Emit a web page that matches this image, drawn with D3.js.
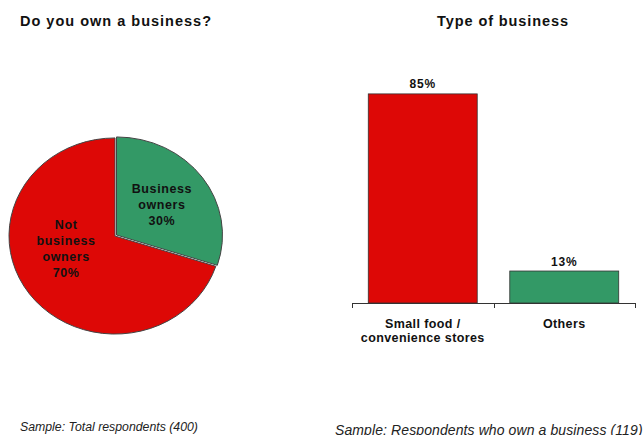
<!DOCTYPE html>
<html>
<head>
<meta charset="utf-8">
<script src="https://cdn.jsdelivr.net/npm/d3@7"></script>
<style>
  html, body { margin: 0; padding: 0; background: #fff; }
  svg { display: block; font-family: Arial, "Liberation Sans", sans-serif; }
</style>
</head>
<body>
<svg id="chart" width="644" height="435"></svg>
<script>
// Ownership split (pie)
const ownershipLabels = [["Business", "owners"], ["Not", "business", "owners"]];
const ownershipValues = [30, 70];
const ownershipColors = ["#339966", "#dd0806"];

// Business type (bars)
const businessTypes = [["Small food /", "convenience stores"], ["Others"]];
const businessValues = [85, 13];
const businessColors = ["#dd0806", "#339966"];

const svg = d3.select("#chart");

// ---------- Titles ----------
svg.append("text").attr("x", 20).attr("y", 25.5)
  .attr("font-size", 14.5).attr("font-weight", "bold").attr("fill", "#111")
  .attr("letter-spacing", 1)
  .text("Do you own a business?");
svg.append("text").attr("x", 503).attr("y", 25.5).attr("text-anchor", "middle")
  .attr("font-size", 14.5).attr("font-weight", "bold").attr("fill", "#111")
  .attr("letter-spacing", 0.9)
  .text("Type of business");

// ---------- Pie ----------
const cx = 115, cy = 236, R = 106, squash = 0.925;
const pie = d3.pie().sort(null).value(d => d);
const arcs = pie(ownershipValues);
const arc = d3.arc().innerRadius(0).outerRadius(R);
const labelArc = d3.arc().innerRadius(58).outerRadius(58);

const pieG = svg.append("g").attr("transform", `translate(${cx},${cy})`);
const explode = [[1.5, -1], [0, 0]];
arcs.forEach((a, i) => {
  pieG.append("path")
    .attr("transform", `translate(${explode[i][0]},${explode[i][1]}) scale(1,${squash})`)
    .attr("d", arc(a))
    .attr("fill", ownershipColors[i])
    .attr("stroke", "#444")
    .attr("stroke-width", 1)
    .attr("vector-effect", "non-scaling-stroke");
});

const labelShift = [[0, 0], [-2, -19]];
arcs.forEach((a, i) => {
  const [lx, ly] = labelArc.centroid(a);
  const lines = ownershipLabels[i].concat([a.data + "%"]);
  const lh = 16;
  const x0 = lx + labelShift[i][0];
  const y0 = ly * squash + labelShift[i][1] - (lines.length - 1) * lh / 2;
  const t = pieG.append("text")
    .attr("text-anchor", "middle").attr("font-size", 12.5)
    .attr("letter-spacing", 0.6)
    .attr("font-weight", "bold").attr("fill", "#111");
  lines.forEach((s, k) => {
    t.append("tspan").attr("x", x0).attr("y", y0 + k * lh + 4.5).text(s);
  });
});

// ---------- Bars ----------
const x = d3.scaleBand().domain(d3.range(businessValues.length))
  .range([352, 635]).paddingInner(0.23).paddingOuter(0.115);
const y = d3.scaleLinear().domain([0, 100]).range([303, 57]);

svg.selectAll("rect.bar").data(businessValues).enter().append("rect")
  .attr("class", "bar")
  .attr("x", (d, i) => x(i)).attr("width", x.bandwidth())
  .attr("y", d => y(d)).attr("height", d => y(0) - y(d))
  .attr("fill", (d, i) => businessColors[i])
  .attr("stroke", "#333").attr("stroke-width", 0.8);

svg.selectAll("text.val").data(businessValues).enter().append("text")
  .attr("class", "val").attr("text-anchor", "middle")
  .attr("x", (d, i) => x(i) + x.bandwidth() / 2)
  .attr("y", d => y(d) - 5.5)
  .attr("font-size", 12).attr("font-weight", "bold").attr("fill", "#111")
  .attr("letter-spacing", 0.8)
  .text(d => d + "%");

// category axis with boundary ticks
const axisG = svg.append("g");
axisG.append("line").attr("x1", 352).attr("x2", 635).attr("y1", 303.5).attr("y2", 303.5)
  .attr("stroke", "#333").attr("stroke-width", 1);
const step = x.step();
d3.range(businessValues.length + 1).forEach(k => {
  const tx = Math.round(352 + k * step) + 0.5;
  axisG.append("line").attr("x1", tx).attr("x2", tx).attr("y1", 303).attr("y2", 308)
    .attr("stroke", "#333").attr("stroke-width", 1);
});

businessTypes.forEach((lines, i) => {
  const t = svg.append("text").attr("text-anchor", "middle")
    .attr("font-size", 12.5).attr("font-weight", "bold").attr("fill", "#111")
    .attr("letter-spacing", 0.4);
  lines.forEach((s, k) => {
    t.append("tspan").attr("x", x(i) + x.bandwidth() / 2).attr("y", 327.5 + k * 14.5).text(s);
  });
});

// ---------- Footnotes ----------
svg.append("text").attr("x", 20).attr("y", 430.5)
  .attr("font-size", 12.3).attr("font-style", "italic").attr("fill", "#222")
  .text("Sample: Total respondents (400)");
svg.append("text").attr("x", 335).attr("y", 435)
  .attr("font-size", 14).attr("font-style", "italic").attr("fill", "#222")
  .attr("letter-spacing", 0.1)
  .text("Sample: Respondents who own a business (119)");
</script>
</body>
</html>
